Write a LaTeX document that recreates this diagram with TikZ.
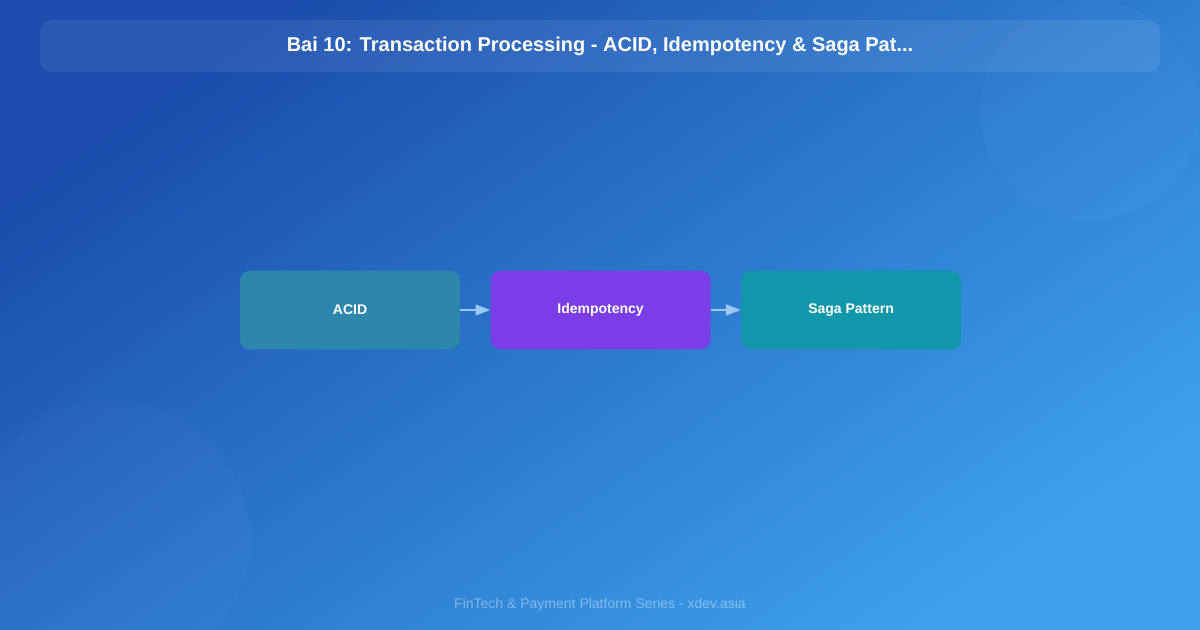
\documentclass[tikz,border=0pt]{standalone}
\usepackage{fontspec}
\setmainfont{Liberation Sans}
\usetikzlibrary{positioning, arrows.meta, calc}

\definecolor{bgTop}{HTML}{1A4DAD}
\definecolor{bgBottom}{HTML}{3DA0EC}
\definecolor{acidCol}{HTML}{2D86AC}
\definecolor{idemCol}{HTML}{7A3DE8}
\definecolor{sagaCol}{HTML}{1196AA}
\definecolor{arrowCol}{HTML}{9CC8F4}

\begin{document}
\begin{tikzpicture}[
    x = 0.75pt, y = -0.75pt, % 1 unit = 1 px, origin top left
    node distance = 22.5pt,
    stage/.style={rounded corners=7.5pt, minimum width=165pt, minimum height=59pt,
                  inner sep=0pt, text=white, font=\bfseries\fontsize{10.5}{12}\selectfont},
    flow/.style={-{Triangle[length=11pt, width=8pt]}, draw=arrowCol, line width=1.3pt}
]

% --- BACKGROUND ---
\useasboundingbox (0,0) rectangle (1200,630);
\shade[top color=bgTop, bottom color=bgBottom, shading angle=35] (0,0) rectangle (1200,630);
\fill[white, opacity=0.025] (1090,110) circle (110);
\fill[white, opacity=0.025] (110,540) circle (140);

% --- TITLE BAR ---
\fill[white, opacity=0.08, rounded corners=9pt] (40,20) rectangle (1160,72);
\node[text=white, font=\bfseries\fontsize{15}{17}\selectfont] (title) at (600,46)
    {Bai 10: Transaction Processing - ACID, Idempotency \& Saga Pat...};

% --- STAGES ---
\node[stage, fill=acidCol] (acid) at (350,310) {ACID};
\node[stage, fill=idemCol, right=of acid] (idem) {Idempotency};
\node[stage, fill=sagaCol, right=of idem] (saga) {Saga Pattern};

\draw[flow] (acid) -- (idem);
\draw[flow] (idem) -- (saga);

% --- FOOTER ---
\node[text=white, opacity=0.4, font=\fontsize{10.5}{12}\selectfont] (footer) at (600,605)
    {FinTech \& Payment Platform Series - xdev.asia};

\end{tikzpicture}
\end{document}
